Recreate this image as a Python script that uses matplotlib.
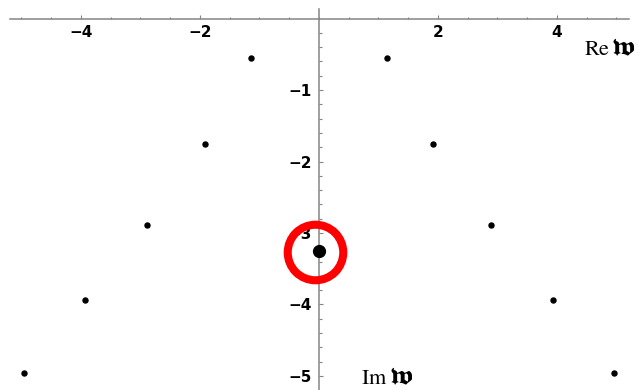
import matplotlib
matplotlib.use("Agg")
import matplotlib.pyplot as plt
import numpy as np
from matplotlib.ticker import MultipleLocator, FixedLocator

plt.rcParams["mathtext.fontset"] = "stix"

# Mode frequencies in the complex plane (Re w, Im w)
re_right = [1.15, 1.91, 2.89, 3.93, 4.95]
im_modes = [-0.55, -1.76, -2.89, -3.94, -4.96]
re_left = [-v for v in re_right]

# Purely imaginary mode, highlighted
center_re = [0.0]
center_im = [-3.25]
ring_re = [-0.06]
ring_im = [-3.26]

x_major = [-4, -2, 2, 4]
y_major = [-1, -2, -3, -4, -5]

fig = plt.figure(figsize=(6.41, 3.90), dpi=100)
ax = fig.add_axes([0, 0, 1, 1])
ax.set_xlim(-5.361, 5.412)
ax.set_ylim(-5.196, 0.259)

axis_grey = "#858585"
for side in ("top", "right"):
    ax.spines[side].set_visible(False)
ax.spines["left"].set_position(("data", 0))
ax.spines["bottom"].set_position(("data", 0))
ax.spines["bottom"].set_bounds(-5.19, 5.21)
ax.spines["left"].set_bounds(-5.3, 0.13)
for side in ("left", "bottom"):
    ax.spines[side].set_color(axis_grey)
    ax.spines[side].set_linewidth(1.1)

ax.xaxis.set_major_locator(FixedLocator(x_major))
ax.xaxis.set_minor_locator(MultipleLocator(0.5))
ax.yaxis.set_major_locator(FixedLocator(y_major))
ax.yaxis.set_minor_locator(FixedLocator(np.arange(-26, 0) * 0.2))

ax.tick_params(axis="both", which="both", direction="in", color=axis_grey, width=0.8)
ax.tick_params(axis="both", which="major", length=3.0)
ax.tick_params(axis="both", which="minor", length=1.8)
ax.tick_params(axis="x", which="major", pad=5, labelsize=11)
ax.tick_params(axis="y", which="major", pad=5, labelsize=11)
for lab in ax.get_xticklabels() + ax.get_yticklabels():
    lab.set_fontweight("bold")

ax.plot(re_left + re_right, im_modes + im_modes, "o", color="black",
        markersize=3.6, linestyle="none", zorder=3)
ax.plot(center_re, center_im, "o", color="black", markersize=8.5, zorder=3)
ax.plot(ring_re, ring_im, "o", markerfacecolor="none", markeredgecolor="#ff0000",
        markersize=40, markeredgewidth=5.8, zorder=4)

# Axis names: roman "Re"/"Im" followed by a bold fraktur w
frak_w = "\U0001D59C"
frak_family = ["STIXGeneral", "DejaVu Serif"]
ax.text(4.89, -0.51, r"$\mathrm{Re}$", fontsize=16, ha="right", va="baseline")
ax.text(4.92, -0.51, frak_w, fontsize=20, ha="left", va="baseline",
        family=frak_family, fontweight="bold")
ax.text(1.16, -5.11, r"$\mathrm{Im}$", fontsize=16, ha="right", va="baseline")
ax.text(1.19, -5.11, frak_w, fontsize=20, ha="left", va="baseline",
        family=frak_family, fontweight="bold")

fig.savefig("out.png", dpi=100)
